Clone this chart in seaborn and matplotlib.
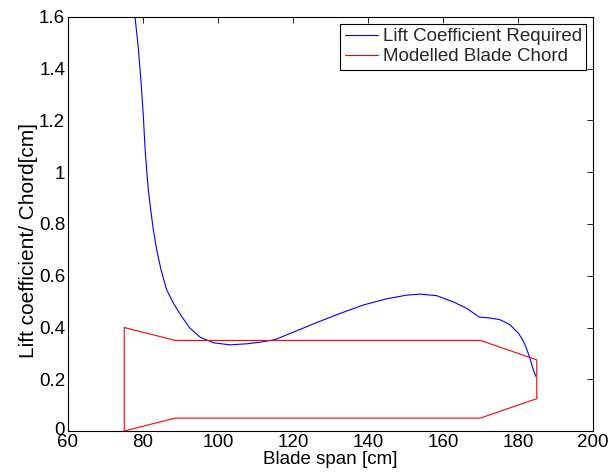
import matplotlib
matplotlib.use("Agg")
import matplotlib.pyplot as plt
import seaborn as sns
import pandas as pd
from matplotlib.ticker import FuncFormatter
from matplotlib.transforms import ScaledTranslation

# Required lift coefficient along the blade span
span_cl = [77.0, 77.87, 78.75, 79.47, 80.08, 80.55, 80.97, 81.41, 82.05, 82.75,
           83.65, 84.8, 86.3, 88.1, 90.3, 92.5, 95.2, 98.75, 103.2, 107.65,
           111.2, 115.2, 120.1, 126.3, 132.5, 138.75, 145.0, 150.3, 153.9, 158.3,
           162.75, 166.3, 169.7, 172.5, 175.2, 176.5, 177.9, 180.1, 181.0, 181.9,
           183.2, 184.1, 184.8]
lift_coeff = [1.75, 1.60, 1.48, 1.35, 1.22, 1.09, 1.01, 0.933, 0.856, 0.778,
              0.701, 0.623, 0.546, 0.494, 0.443, 0.398, 0.363, 0.341, 0.333, 0.337,
              0.343, 0.353, 0.382, 0.419, 0.454, 0.487, 0.511, 0.525, 0.529, 0.523,
              0.499, 0.474, 0.440, 0.437, 0.430, 0.421, 0.410, 0.378, 0.358, 0.333,
              0.281, 0.235, 0.21]

# Modelled blade outline (chord drawn symmetric about its centre line)
span_chord = [75, 75, 88.6, 170, 185, 185, 170, 88.6, 75]
chord = [0.0, 0.40, 0.35, 0.35, 0.275, 0.125, 0.05, 0.05, 0.0]

x_ticks = [60, 80, 100, 120, 140, 160, 180, 200]
y_ticks = [0, 0.2, 0.4, 0.6, 0.8, 1.0, 1.2, 1.4, 1.6]

sns.set_theme(style="white")
plt.rcParams["font.family"] = ["Liberation Sans", "DejaVu Sans"]
FS = 13.5

fig = plt.figure(figsize=(6.09, 4.73), dpi=100)
ax = fig.add_axes([68 / 609, 42 / 473, 525 / 609, 414 / 473])

cl_df = pd.DataFrame({"span": span_cl, "value": lift_coeff})
ch_df = pd.DataFrame({"span": span_chord, "value": chord})

sns.lineplot(data=cl_df, x="span", y="value", sort=False, estimator=None,
             color="#0000ff", linewidth=0.8, ax=ax, label="Lift Coefficient Required")
sns.lineplot(data=ch_df, x="span", y="value", sort=False, estimator=None,
             color="#ff0000", linewidth=0.8, ax=ax, label="Modelled Blade Chord")

ax.set_xlim(60, 200)
ax.set_ylim(0, 1.6)
ax.set_xticks(x_ticks)
ax.set_yticks(y_ticks)
ax.yaxis.set_major_formatter(FuncFormatter(lambda v, p: f"{v:g}"))
ax.tick_params(direction="in", length=4, width=0.6, top=True, right=True,
               labelsize=FS, colors="black", pad=2)
for s in ax.spines.values():
    s.set_color("black")
    s.set_linewidth(0.8)

# lift the "0" label a little so it clears the "60" below it
zero_lbl = ax.yaxis.get_major_ticks()[0].label1
zero_lbl.set_transform(zero_lbl.get_transform()
                       + ScaledTranslation(0, 3 / 100, fig.dpi_scale_trans))

ax.set_xlabel("Blade span [cm]", fontsize=FS, color="black", labelpad=0)
ax.set_ylabel("Lift coefficient/ Chord[cm]", fontsize=15, color="black")
ax.yaxis.set_label_coords(-0.057, 0.459)

leg = ax.legend(loc="upper right", fancybox=False, framealpha=1, edgecolor="black",
                fontsize=FS, handlelength=1.76, handletextpad=0.27, labelspacing=0.15,
                borderpad=0.25, borderaxespad=0.35)
leg.get_frame().set_linewidth(0.8)

fig.savefig("out.png", dpi=100)
